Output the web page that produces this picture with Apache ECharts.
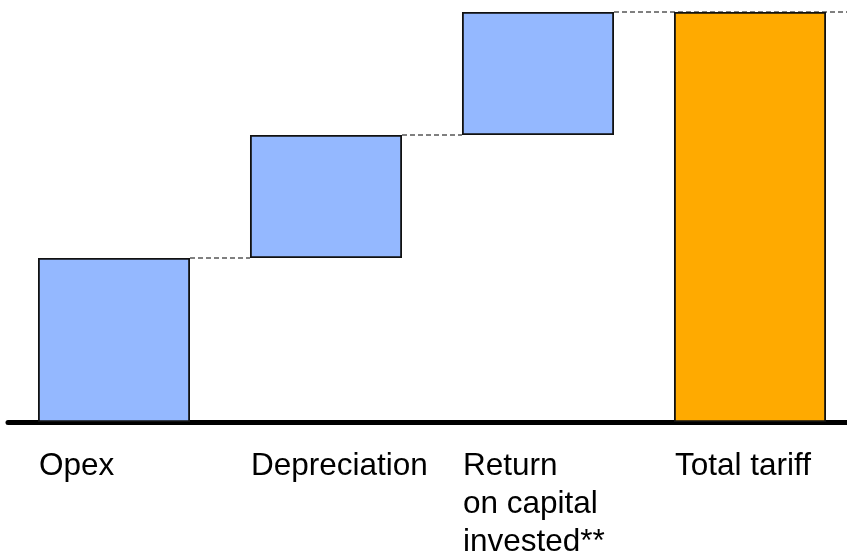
<!DOCTYPE html>
<html>
<head>
<meta charset="utf-8">
<script src="https://cdn.jsdelivr.net/npm/echarts@6/dist/echarts.min.js"></script>
<style>
  html, body { margin: 0; padding: 0; background: #ffffff; }
  #chart { width: 847px; height: 553px; }
</style>
</head>
<body>
<div id="chart"></div>
<script>
// Tariff build-up: each component stacked on the previous, then the total
const categories = ['Opex', 'Depreciation', 'Return\non capital\ninvested**', 'Total tariff'];
const componentValues = [40, 30, 30];
const totalValue = 100;

const componentColor = '#94B8FF';
const totalColor = '#FFAA00';
const BAR_RATIO = 0.717;

// invisible offsets and visible heights for the waterfall
const offsets = [];
const heights = [];
let running = 0;
componentValues.forEach(v => { offsets.push(running); heights.push(v); running += v; });
offsets.push(0);
heights.push(totalValue);

// connector levels: the top of each component bar
const levels = [];
running = 0;
componentValues.forEach((v, i) => { running += v; levels.push([i, running]); });

const chart = echarts.init(document.getElementById('chart'), null, { renderer: 'canvas' });

chart.setOption({
  animation: false,
  backgroundColor: '#ffffff',
  grid: { left: 8, top: 12, right: -9, height: 410, containLabel: false, outerBoundsMode: 'none' },
  xAxis: {
    type: 'category',
    data: categories,
    boundaryGap: true,
    axisTick: { show: false },
    axisLabel: { show: false },
    axisLine: { show: true, lineStyle: { color: '#000000', width: 5, cap: 'round' } },
    splitLine: { show: false }
  },
  yAxis: {
    type: 'value', min: 0, max: 100, show: false,
    splitLine: { show: false }
  },
  series: [
    {
      name: 'offset', type: 'bar', stack: 'tariff', barWidth: (BAR_RATIO * 100) + '%',
      itemStyle: { color: 'rgba(0,0,0,0)' },
      emphasis: { disabled: true },
      data: offsets, z: 2
    },
    {
      name: 'component', type: 'bar', stack: 'tariff', barWidth: (BAR_RATIO * 100) + '%',
      data: heights.map((v, i) => ({
        value: v,
        itemStyle: {
          color: i === heights.length - 1 ? totalColor : componentColor,
          borderColor: '#111111', borderWidth: 1.8
        }
      })),
      z: 3
    },
    {
      // dashed connectors from each bar top to the next bar
      name: 'connector', type: 'custom', clip: false, z: 1,
      data: levels,
      renderItem: function (params, api) {
        const i = api.value(0);
        const p = api.coord([i, api.value(1)]);
        const band = api.size([1, 0])[0];
        const half = band * BAR_RATIO / 2;
        const x1 = p[0] + half;
        const x2 = (i === levels.length - 1) ? api.getWidth() : p[0] + band - half;
        return {
          type: 'line',
          shape: { x1: x1, y1: p[1], x2: x2, y2: p[1] },
          style: { stroke: '#000000', lineWidth: 1, lineDash: [5, 3] }
        };
      }
    },
    {
      // category names, left-aligned under each bar
      name: 'labels', type: 'custom', clip: false, z: 4,
      data: categories.map((c, i) => [i, 0]),
      renderItem: function (params, api) {
        const i = api.value(0);
        const p = api.coord([i, 0]);
        const band = api.size([1, 0])[0];
        const half = band * BAR_RATIO / 2;
        return {
          type: 'text',
          x: p[0] - half + 1,
          y: p[1] + 25,
          style: {
            text: categories[i],
            fill: '#000000',
            fontSize: 31.5,
            fontFamily: '"Liberation Sans", Arial, Helvetica, sans-serif',
            lineHeight: 38,
            align: 'left',
            verticalAlign: 'top'
          }
        };
      }
    }
  ]
});
</script>
</body>
</html>
